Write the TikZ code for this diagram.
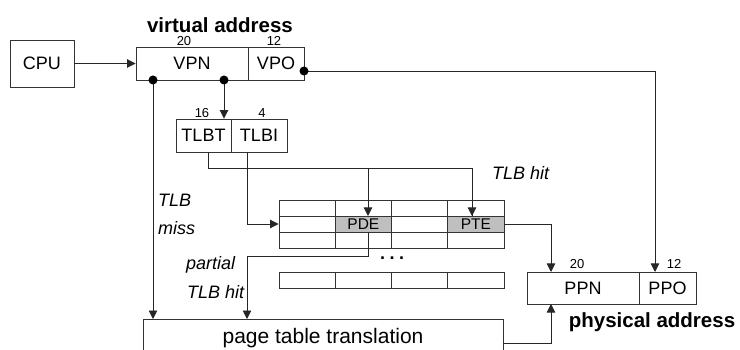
\documentclass[tikz,border=0pt]{standalone}
\usepackage{fontspec}
\setmainfont{Liberation Sans}
\usetikzlibrary{arrows.meta}
\begin{document}
\begin{tikzpicture}[x=1pt,y=-1pt,
  ln/.style={draw=black!85, line width=0.9pt},
  arr/.style={ln, -{Triangle[length=8.5pt,width=8.5pt]}},
  box/.style={draw=black!80, line width=0.9pt, rectangle, inner sep=0pt, font=\fontsize{18}{20}\selectfont},
  bits/.style={font=\fontsize{13}{14}\selectfont, inner sep=0pt},
  lbl/.style={font=\fontsize{18}{20}\selectfont\itshape, inner sep=0pt, anchor=west},
  ttl/.style={font=\fontsize{20.5}{22}\selectfont\bfseries, inner sep=0pt},
  cell/.style={draw=black!80, line width=0.9pt, rectangle, inner sep=0pt, minimum width=56.25pt, minimum height=16pt, font=\fontsize{15.5}{16}\selectfont},
  gcell/.style={cell, fill=black!25},
  dotc/.style={circle, fill=black, inner sep=0pt, minimum size=9pt}
]
\useasboundingbox (0,0) rectangle (740,350);

% CPU and virtual address
\node[box, minimum width=64pt, minimum height=47pt] (cpu) at (42,63.5) {CPU};
\node[box, minimum width=112pt, minimum height=33pt] (vpn) at (192,63.5) {VPN};
\node[box, minimum width=56pt, minimum height=33pt] (vpo) at (276,63.5) {VPO};
\node[ttl] (va) at (220,25) {virtual address};
\node[bits] (b20a) at (184,41) {20};
\node[bits] (b12a) at (274,41) {12};

% TLBT / TLBI
\node[box, minimum width=55pt, minimum height=33pt] (tlbt) at (203.5,135.5) {TLBT};
\node[box, minimum width=56pt, minimum height=33pt] (tlbi) at (259,135.5) {TLBI};
\node[bits] (b16) at (202,113) {16};
\node[bits] (b4) at (262,113) {4};

% TLB table
\foreach \c in {0,1,2,3} {
  \foreach \r in {0,1,2} {
    \node[cell] (t\r\c) at ({307.125+56.25*\c},{208+16*\r}) {};
  }
  \node[cell] (u\c) at ({307.125+56.25*\c},280) {};
}
\node[gcell] (pde) at (363.375,224) {PDE};
\node[gcell] (pte) at (475.875,224) {PTE};
\node[font=\fontsize{18}{20}\selectfont\bfseries, inner sep=0pt, anchor=base] (dots) at (392,260) {.\hspace{4.5pt}.\hspace{4.5pt}.};

% physical address
\node[box, minimum width=112pt, minimum height=32pt] (ppn) at (583,288) {PPN};
\node[box, minimum width=57pt, minimum height=32pt] (ppo) at (667.5,288) {PPO};
\node[bits] (b20b) at (577,264) {20};
\node[bits] (b12b) at (674,264) {12};
\node[ttl] (pa) at (652,322) {physical address};

% page table translation
\node[box, minimum width=360pt, minimum height=38pt, font=\fontsize{21}{23}\selectfont] (ptt) at (323,338) {page table translation};

% labels
\node[lbl] (lmiss1) at (158,200) {TLB};
\node[lbl] (lmiss2) at (158,228) {miss};
\node[lbl] (lhit) at (492,173) {TLB hit};
\node[lbl] (lpart1) at (186,265) {partial};
\node[lbl] (lpart2) at (187,292) {TLB hit};

% coordinates
\coordinate (dA) at (153,80);
\coordinate (dB) at (224,80);
\coordinate (dC) at (304,71);
\coordinate (tbo) at (208,152);
\coordinate (tio) at (247,152);
\coordinate (pdein) at (368,216);
\coordinate (ptein) at (472,216);
\coordinate (pdeout) at (368,232);
\coordinate (ppnin) at (551,272);
\coordinate (ppoin) at (655,272);
\coordinate (pttA) at (153,319);
\coordinate (pttB) at (247,319);
\coordinate (pttR) at (503,343);
\coordinate (ppnbot) at (551,304);

% connectors
\draw[arr] (cpu.east) -- (vpn.west);
\draw[arr] (dC) -| (ppoin);
\draw[arr] (dB) -- (dB |- tlbt.north);
\draw[arr] (dA) -- (pttA);
\draw[ln] (tbo) -- (208,168) -| (ptein);
\draw[arr] (368,168) -- (pdein);
\draw[arr] (472,200) -- (ptein);
\draw[arr] (tio) |- (t10.west);
\draw[arr] (pdeout) -- (368,256) -| (pttB);
\draw[arr] (pte.east) -| (ppnin);
\draw[arr] (pttR) -| (ppnbot);

\node[dotc] (dotA) at (dA) {};
\node[dotc] (dotB) at (dB) {};
\node[dotc] (dotC) at (dC) {};
\end{tikzpicture}
\end{document}
